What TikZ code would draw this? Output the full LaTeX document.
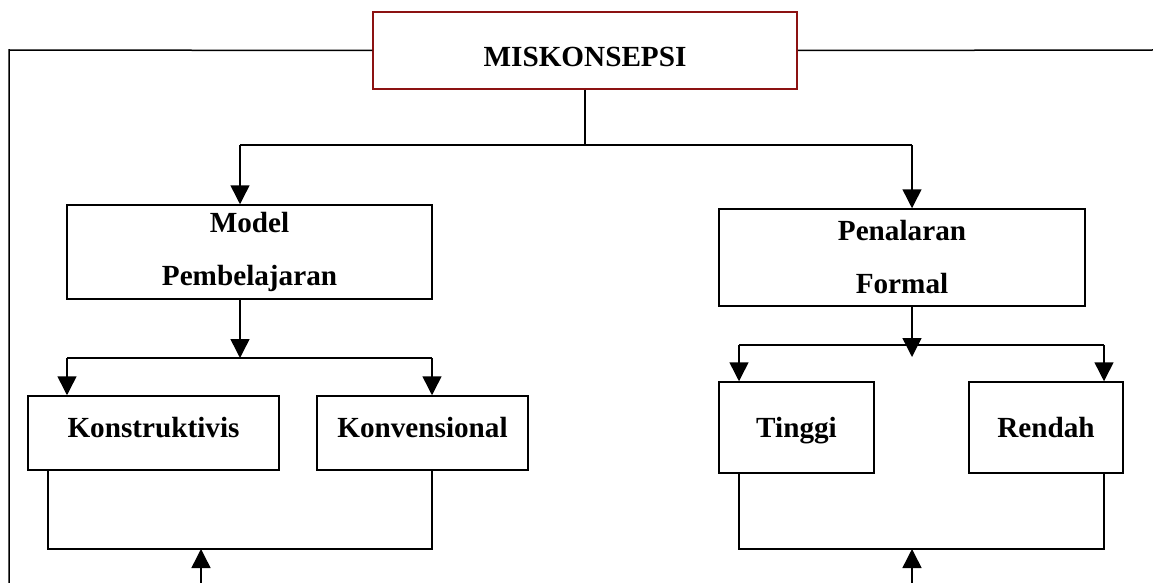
\documentclass[tikz,border=0pt]{standalone}
\usepackage{fontspec}
\setmainfont{Liberation Serif}
\usepackage{xcolor}
\usetikzlibrary{arrows.meta,positioning}
\definecolor{miskred}{RGB}{140,18,18}
\tikzset{
  kotak/.style={draw=black,line width=1.5pt,inner sep=0pt,align=center,
    font=\fontsize{29.2pt}{53pt}\selectfont\bfseries},
}

\begin{document}
\begin{tikzpicture}[line width=1.5pt,>={Triangle[length=19pt,width=19pt]},x=1pt,y=-1pt]
                \useasboundingbox (0,0) rectangle (1153,583);
                \node[kotak,draw=miskred,minimum width=424pt,minimum height=77pt,text height=32pt,text depth=0pt] (mis) at (585,50.5) {MISKONSEPSI};
                \node[kotak,minimum width=365pt,minimum height=94pt] (model) at (249.5,252) {Model\\Pembelajaran};
                \node[kotak,minimum width=366pt,minimum height=97pt] (pen) at (902,257.5) {Penalaran\\Formal};
                \node[kotak,minimum width=251pt,minimum height=74pt,text height=8pt,text depth=0pt] (kons) at (153.5,433) {Konstruktivis};
                \node[kotak,minimum width=211pt,minimum height=74pt,text height=8pt,text depth=0pt] (konv) at (422.5,433) {Konvensional};
                \node[kotak,minimum width=155pt,minimum height=91pt,text height=19pt,text depth=0pt] (ting) at (796.5,427.5) {Tinggi};
                \node[kotak,minimum width=154pt,minimum height=91pt,text height=19pt,text depth=0pt] (rend) at (1046,427.5) {Rendah};
                \coordinate (fTL) at (9,50);
                \coordinate (fBL) at (9,583);
                \coordinate (fTR) at (1153,50);
                \coordinate (sp) at (585,145);
                \coordinate (spL) at (240,145);
                \coordinate (spR) at (912,145);
                \coordinate (mL) at (67,358);
                \coordinate (mM) at (240,358);
                \coordinate (mR) at (432,358);
                \coordinate (pL) at (739,345);
                \coordinate (pM) at (912,357);
                \coordinate (pR) at (1104,345);
                \coordinate (bL) at (48,549);
                \coordinate (bM) at (201,549);
                \coordinate (bM0) at (201,583);
                \coordinate (bR) at (432,549);
                \coordinate (qL) at (739,549);
                \coordinate (qM) at (912,549);
                \coordinate (qM0) at (912,583);
                \coordinate (qR) at (1104,549);
                \draw (mis.west) -- (fTL) -- (fBL);
                \draw (mis.east) -- (fTR);
                \draw (mis.south) -- (sp);
                \draw (spL) -- (spR);
                \draw [->] (spL) -- (spL |- model.north);
                \draw [->] (spR) -- (spR |- pen.north);
                \draw [->] (mM |- model.south) -- (mM);
                \draw (mL) -- (mR);
                \draw [->] (mL) -- (mL |- kons.north);
                \draw [->] (mR) -- (mR |- konv.north);
                \draw [->] (pM |- pen.south) -- (pM);
                \draw (pL) -- (pR);
                \draw [->] (pL) -- (pL |- ting.north);
                \draw [->] (pR) -- (pR |- rend.north);
                \draw (bL |- kons.south) -- (bL) -- (bR) -- (bR |- konv.south);
                \draw [->] (bM0) -- (bM);
                \draw (qL |- ting.south) -- (qL) -- (qR) -- (qR |- rend.south);
                \draw [->] (qM0) -- (qM);
            \end{tikzpicture}
\end{document}
